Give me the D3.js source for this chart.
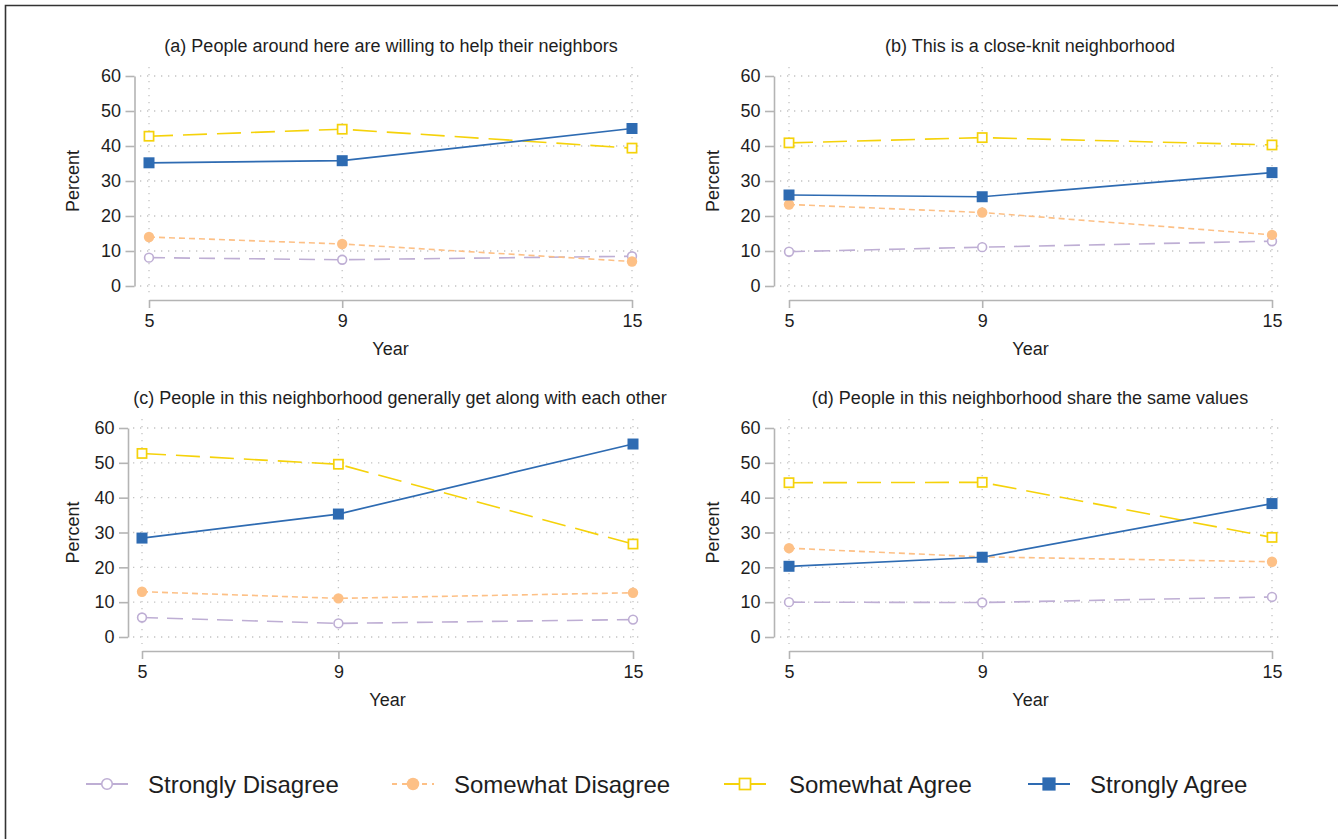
<!DOCTYPE html>
<html>
<head>
<meta charset="utf-8">
<script src="https://cdn.jsdelivr.net/npm/d3@7"></script>
<style>
  html, body { margin: 0; padding: 0; background: #fff; }
  svg { display: block; }
  text { font-family: "Liberation Sans", Arial, Helvetica, sans-serif; fill: #1e1e1e; }
</style>
</head>
<body>
<script>
// ---------------- data ----------------
const years = [5, 9, 15];
const yTicks = [0, 10, 20, 30, 40, 50, 60];
const seriesNames = ["Strongly Disagree", "Somewhat Disagree", "Somewhat Agree", "Strongly Agree"];
const panelTitles = [
  "(a) People around here are willing to help their neighbors",
  "(b) This is a close-knit neighborhood",
  "(c) People in this neighborhood generally get along with each other",
  "(d) People in this neighborhood share the same values"
];
// values per panel, in seriesNames order, at years 5, 9, 15
const panelA = [[8.1, 7.5, 8.5], [14.0, 12.0, 7.0], [42.8, 44.8, 39.4], [35.2, 35.8, 45.0]];
const panelB = [[9.8, 11.1, 12.8], [23.3, 21.0, 14.6], [40.9, 42.4, 40.3], [26.0, 25.5, 32.4]];
const panelC = [[5.6, 3.9, 5.0], [13.0, 11.1, 12.7], [52.7, 49.6, 26.7], [28.4, 35.3, 55.4]];
const panelD = [[10.0, 9.9, 11.5], [25.5, 23.0, 21.6], [44.3, 44.4, 28.6], [20.3, 22.9, 38.3]];
const panelData = [panelA, panelB, panelC, panelD];

// ---------------- styles / layout ----------------
const colors = ["#beaed4", "#fdc086", "#f5d20a", "#2e6bb2"];
const dashes = ["16,9", "6,4", "24,10", null];
const layout = [
  {x0: 149, x1: 632, y0: 286, y1: 76, ax: 134.5, ay: 300, tx: 391, ty: 52, px: 73},
  {x0: 789, x1: 1272, y0: 286, y1: 76, ax: 774, ay: 300, tx: 1030, ty: 52, px: 713},
  {x0: 142, x1: 633, y0: 637, y1: 428, ax: 128, ay: 651, tx: 400, ty: 404, px: 73},
  {x0: 789, x1: 1272, y0: 637, y1: 428, ax: 774, ay: 651, tx: 1030, ty: 404, px: 713}
];
const legendPos = [{sx: 86, mx: 107, tx: 148}, {sx: 392, mx: 413, tx: 454},
                   {sx: 724, mx: 745, tx: 789}, {sx: 1028, mx: 1049, tx: 1090}];

const W = 1338, H = 839;
const svg = d3.select("body").append("svg").attr("width", W).attr("height", H);
svg.append("rect").attr("width", W).attr("height", H).attr("fill", "#fff");

// outer frame (top and left edges)
svg.append("path").attr("d", `M5.5,${H} V5.5 H${W}`).attr("fill", "none")
  .attr("stroke", "#333").attr("stroke-width", 1.6);

function drawMarker(g, k, cx, cy, big) {
  const s = big ? 1.2 : 1;
  if (k === 0) {
    g.append("circle").attr("cx", cx).attr("cy", cy).attr("r", 4.4 * s)
      .attr("fill", "#fff").attr("stroke", colors[0]).attr("stroke-width", 1.6);
  } else if (k === 1) {
    g.append("circle").attr("cx", cx).attr("cy", cy).attr("r", 5.2 * s).attr("fill", colors[1]);
  } else if (k === 2) {
    const h = 4.6 * s;
    g.append("rect").attr("x", cx - h).attr("y", cy - h).attr("width", 2 * h).attr("height", 2 * h)
      .attr("fill", "#fff").attr("stroke", colors[2]).attr("stroke-width", 1.7);
  } else {
    const h = 5.5 * s;
    g.append("rect").attr("x", cx - h).attr("y", cy - h).attr("width", 2 * h).attr("height", 2 * h)
      .attr("fill", colors[3]);
  }
}

panelData.forEach((data, i) => {
  const L = layout[i];
  const g = svg.append("g");
  const x = d3.scaleLinear().domain([5, 15]).range([L.x0, L.x1]);
  const y = d3.scaleLinear().domain([0, 60]).range([L.y0, L.y1]);

  // grid
  const grid = g.append("g").attr("stroke", "#c4c4c4").attr("stroke-width", 1.3)
    .attr("stroke-dasharray", "1.3,5.7").attr("fill", "none");
  yTicks.forEach(t => grid.append("line")
    .attr("x1", x(5) - 9).attr("x2", x(15) + 10).attr("y1", y(t)).attr("y2", y(t)));
  years.forEach(t => grid.append("line")
    .attr("x1", x(t)).attr("x2", x(t)).attr("y1", y(60) - 9).attr("y2", y(0) + 7));

  // y axis
  const ya = g.append("g").attr("transform", `translate(${L.ax},0)`)
    .call(d3.axisLeft(y).tickValues(yTicks).tickSize(9).tickSizeOuter(0).tickPadding(4.5));
  // x axis
  const xa = g.append("g").attr("transform", `translate(0,${L.ay})`)
    .call(d3.axisBottom(x).tickValues(years).tickSize(8).tickSizeOuter(0).tickPadding(6));
  [ya, xa].forEach(a => {
    a.select(".domain").attr("stroke", "#b4b4b4").attr("stroke-width", 1.6);
    a.selectAll(".tick line").attr("stroke", "#b4b4b4").attr("stroke-width", 1.6);
    a.selectAll(".tick text").attr("font-size", 18).attr("fill", "#1e1e1e")
      .attr("font-family", "Liberation Sans, Arial, sans-serif");
  });

  // titles
  g.append("text").attr("x", L.tx).attr("y", L.ty).attr("text-anchor", "middle")
    .attr("font-size", 18).text(panelTitles[i]);
  g.append("text").attr("x", (L.x0 + L.x1) / 2).attr("y", L.ay + 55).attr("text-anchor", "middle")
    .attr("font-size", 18).text("Year");
  g.append("text").attr("transform", `translate(${L.px},${(L.y0 + L.y1) / 2}) rotate(-90)`)
    .attr("text-anchor", "middle").attr("dy", "0.36em").attr("font-size", 18).text("Percent");

  // series
  const line = d3.line().x((d, j) => x(years[j])).y(d => y(d));
  data.forEach((vals, k) => {
    const p = g.append("path").attr("d", line(vals)).attr("fill", "none")
      .attr("stroke", colors[k]).attr("stroke-width", k === 3 ? 1.7 : 1.6);
    if (dashes[k]) p.attr("stroke-dasharray", dashes[k]);
    vals.forEach((v, j) => drawMarker(g, k, x(years[j]), y(v), false));
  });
});

// legend
const ly = 784;
seriesNames.forEach((name, k) => {
  const P = legendPos[k];
  const g = svg.append("g");
  const ln = g.append("line").attr("x1", P.sx).attr("x2", P.sx + 42).attr("y1", ly).attr("y2", ly)
    .attr("stroke", colors[k]).attr("stroke-width", 2);
  if (k === 1) ln.attr("stroke-dasharray", "5,5").attr("stroke-dashoffset", 0);
  drawMarker(g, k, P.mx, ly, true);
  g.append("text").attr("x", P.tx).attr("y", ly).attr("dy", "0.36em")
    .attr("font-size", 24).text(name);
});
</script>
</body>
</html>
